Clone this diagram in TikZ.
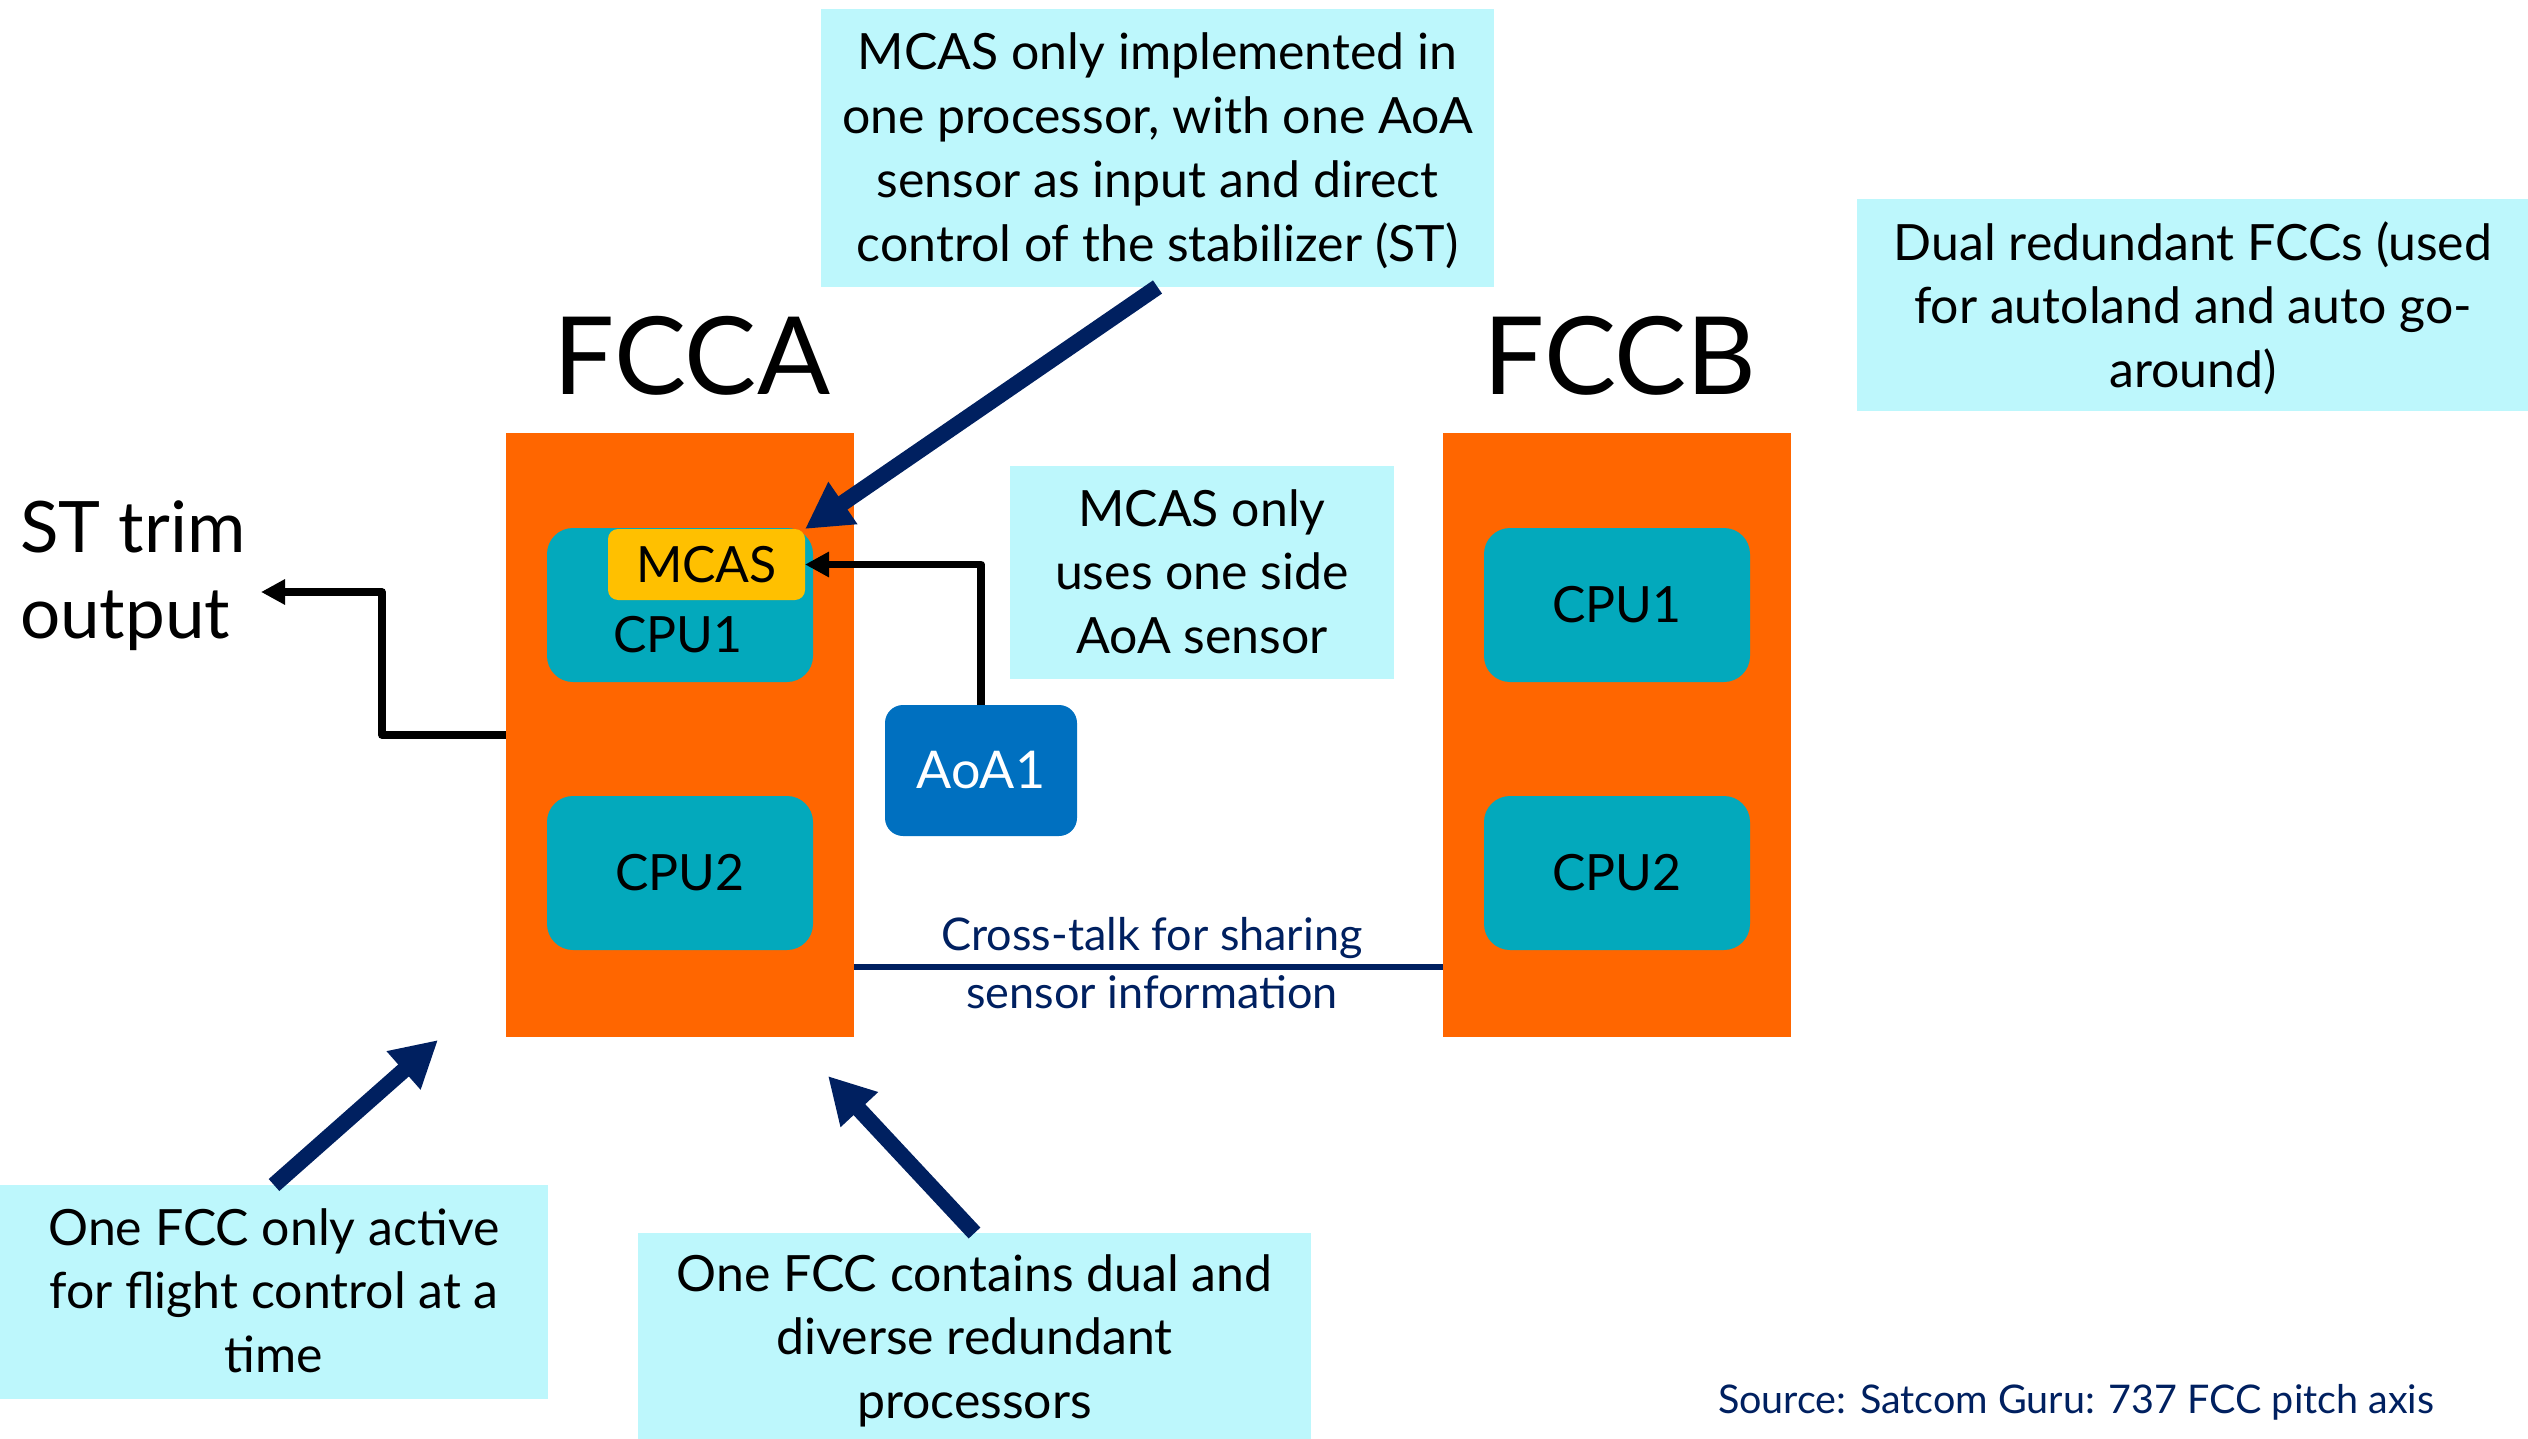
\documentclass[tikz,border=0pt]{standalone}
\usepackage{fontspec}
\setmainfont{Lato}
\usetikzlibrary{arrows.meta,calc}

\definecolor{fccorange}{RGB}{255,102,0}
\definecolor{cputeal}{RGB}{3,169,188}
\definecolor{mcasyellow}{RGB}{255,192,0}
\definecolor{aoablue}{RGB}{0,112,192}
\definecolor{notecyan}{RGB}{189,247,252}
\definecolor{navy}{RGB}{0,32,96}

% strut that fixes the first baseline one em below a text node's top
\newcommand\firstline{\rule{0pt}{1em}}

\begin{document}
\begin{tikzpicture}[x=1pt,y=-1pt,
  every node/.style={inner sep=0pt, outer sep=0pt},
  fccbox/.style={fill=fccorange, minimum width=348, minimum height=604, anchor=north west},
  cpubox/.style={fill=cputeal, rounded corners=26, minimum width=266, minimum height=154,
                 anchor=north west, font=\fontsize{50}{60}\selectfont},
  mcasbox/.style={fill=mcasyellow, rounded corners=10, minimum width=197, minimum height=71,
                  anchor=north west, font=\fontsize{50}{60}\selectfont},
  sensorbox/.style={fill=aoablue, rounded corners=18, minimum width=192, minimum height=131,
                    anchor=north west, text=white, font=\fontsize{52}{60}\selectfont},
  notebox/.style={fill=notecyan, anchor=north west},
  notetext/.style={anchor=north, align=center, font=\fontsize{50}{63.7}\selectfont},
  fcclabel/.style={anchor=base, font=\fontsize{108}{120}\selectfont},
  blkarrow/.style={draw=black, line width=7.5, line join=round, -{Triangle[length=24pt,width=24pt]}},
  navyarrow/.style={draw=navy, line width=16, -{Triangle[length=46pt,width=48pt]}}
]
\useasboundingbox (0,0) rectangle (2528,1439);

% flight control computers
\node[fccbox] (fcca) at (506,433) {};
\node[fccbox] (fccb) at (1443,433) {};
\node[fcclabel] (fccaname) at (692,394) {FCCA};
\node[fcclabel] (fccbname) at (1620,394) {FCCB};

% processors
\node[cpubox] (acpu1) at (547,528) {};
\node[anchor=base, font=\fontsize{50}{60}\selectfont] (acpu1name) at (678,652) {CPU1};
\node[cpubox] (acpu2) at (547,796) {CPU2};
\node[cpubox] (bcpu1) at (1484,528) {CPU1};
\node[cpubox] (bcpu2) at (1484,796) {CPU2};
\node[mcasbox] (mcas) at (608,529) {MCAS};

% angle of attack sensor
\node[sensorbox] (aoa) at (885,705) {AoA1};

% stabilizer trim output
\coordinate (sttip) at (261,592);
\node[anchor=north west, align=left, font=\fontsize{71}{86}\selectfont] (sttrim) at (20,481)
  {\firstline ST trim\\output};
\draw[blkarrow] (fcca.west) -- ++(-124,0) |- (sttip);
\draw[blkarrow] (aoa.north) |- (mcas.east);

% cross-talk link
\draw[navy, line width=6] ($(fcca.south east)+(0,-70)$) -- ($(fccb.south west)+(0,-70)$);
\node[anchor=north, align=center, text=navy, font=\fontsize{45}{58}\selectfont] (xtalk) at (1152,905)
  {\firstline Cross-talk for sharing\\sensor information};

% notes
\node[notebox, minimum width=673, minimum height=278] (nmcas) at (821,9) {};
\node[notetext] (nmcastext) at (1157.5,20)
  {\firstline MCAS only implemented in\\one processor, with one AoA\\sensor as input and direct\\control of the stabilizer (ST)};

\node[notebox, minimum width=671, minimum height=212] (ndual) at (1857,199) {};
\node[notetext] (ndualtext) at (2193,210)
  {\firstline Dual redundant FCCs (used\\for autoland and auto go-\\around)};

\node[notebox, minimum width=384, minimum height=213] (nside) at (1010,466) {};
\node[notetext] (nsidetext) at (1202,476)
  {\firstline MCAS only\\uses one side\\AoA sensor};

\node[notebox, minimum width=548, minimum height=214] (nactive) at (0,1185) {};
\node[notetext] (nactivetext) at (274,1195)
  {\firstline One FCC only active\\for flight control at a\\time};

\node[notebox, minimum width=673, minimum height=206] (nproc) at (638,1233) {};
\node[notetext] (nproctext) at (974.5,1241)
  {\firstline One FCC contains dual and\\diverse redundant\\processors};

% pointers from the notes
\coordinate (fccacorner) at (438,1040);
\coordinate (fccabottom) at (828,1076);
\draw[navyarrow] (nmcas.south) -- (mcas.north east);
\draw[navyarrow] (nactive.north) -- (fccacorner);
\draw[navyarrow] (nproc.north) -- (fccabottom);

% source line
\node[anchor=base west, text=navy, font=\fontsize{39.5}{48}\selectfont] (source) at (1718,1413)
  {Source: Satcom Guru: 737 FCC pitch axis};
\end{tikzpicture}
\end{document}
